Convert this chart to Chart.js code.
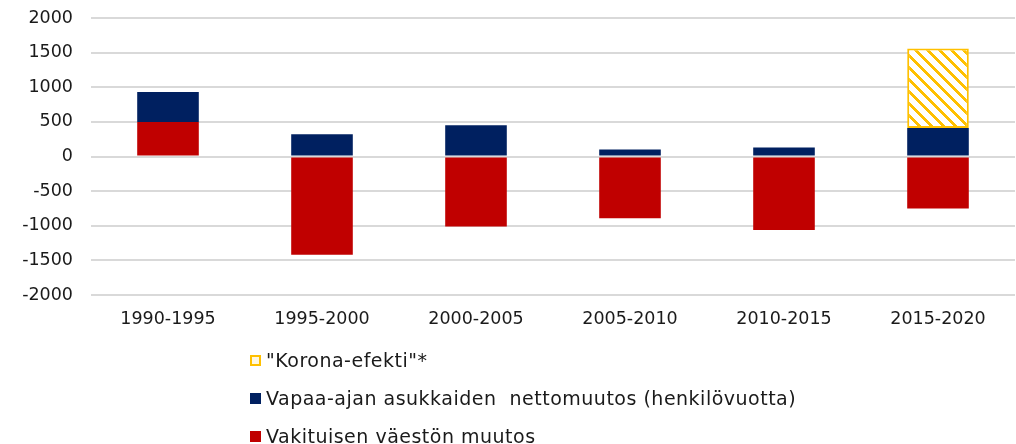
<!DOCTYPE html>
<html>
<head>
<meta charset="utf-8">
<script src="https://cdn.jsdelivr.net/npm/chart.js@4"></script>
<style>
  html, body { margin: 0; padding: 0; background: #fff; }
  #wrap { position: relative; width: 1016px; height: 444px; overflow: hidden; }
  #legend { position: absolute; left: 250px; top: 348px; font-family: "DejaVu Sans", sans-serif; font-size: 19px; letter-spacing: 0.5px; color: #1a1a1a; }
  #legend div { height: 38px; line-height: 24px; white-space: pre; }
  #legend span.box { display: inline-block; width: 11px; height: 11px; margin-right: 5px; vertical-align: 1px; box-sizing: border-box; }
</style>
</head>
<body>
<div id="wrap">
  <canvas id="chart" width="1016" height="444"></canvas>
  <div id="legend"></div>
</div>
<script>
const periods = ['1990-1995', '1995-2000', '2000-2005', '2005-2010', '2010-2015', '2015-2020'];
const vakituiset = [500, -1420, -1010, -890, -1060, -750];
const vapaaAjan = [430, 320, 450, 100, 130, 410];
const korona = [0, 0, 0, 0, 0, 1150];

// diagonal yellow hatch for the corona bar
function hatch() {
    const n = 12;
    const c = document.createElement('canvas');
    c.width = n; c.height = n;
    const g = c.getContext('2d');
    g.fillStyle = '#ffffff';
    g.fillRect(0, 0, n, n);
    g.fillStyle = '#FFC000';
    for (let x = 0; x < n; x++) {
        for (let y = 0; y < n; y++) {
            if (((x - y) % n + n) % n < 4) g.fillRect(x, y, 1, 1);
        }
    }
    return g.createPattern(c, 'repeat');
}

const ctx = document.getElementById('chart');

const data = {
    labels: periods,
    datasets: [{
        label: 'Vakituisen väestön muutos',
        data: vakituiset,
        backgroundColor: '#C00000'
    }, {
        label: 'Vapaa-ajan asukkaiden  nettomuutos (henkilövuotta)',
        data: vapaaAjan,
        backgroundColor: '#002060'
    }, {
        label: '"Korona-efekti"*',
        data: korona,
        backgroundColor: hatch(),
        borderColor: '#FFC000',
        borderWidth: 2,
        borderSkipped: false
    }]
};

const chart = new Chart(ctx, {
    type: 'bar',
    data: data,
    options: {
        responsive: false,
        animation: false,
        barPercentage: 0.4,
        categoryPercentage: 1,
        layout: { padding: { top: 18, right: 1, bottom: 108, left: 0 } },
        plugins: {
            legend: { display: false },
            tooltip: { enabled: false }
        },
        scales: {
            x: {
                stacked: true,
                grid: { display: false },
                border: { display: false },
                ticks: {
                    padding: 6,
                    color: '#1a1a1a',
                    font: { family: 'DejaVu Sans', size: 17.5 }
                }
            },
            y: {
                stacked: true,
                min: -2000,
                max: 2000,
                afterFit: (s) => { s.width = 91; s.paddingTop = 0; },
                grid: { color: '#d9d9d9', lineWidth: 2, drawTicks: false },
                border: { display: false },
                ticks: {
                    stepSize: 500,
                    padding: 18,
                    color: '#1a1a1a',
                    font: { family: 'DejaVu Sans', size: 17.5 },
                    callback: (v) => String(v)
                }
            }
        }
    }
});

// vertical legend, last series on top
const legend = document.getElementById('legend');
data.datasets.slice().reverse().forEach(ds => {
    const row = document.createElement('div');
    const box = document.createElement('span');
    box.className = 'box';
    if (ds.borderColor) {
        box.style.border = '2px solid ' + ds.borderColor;
        box.style.background = '#fff8e0';
    } else {
        box.style.background = ds.backgroundColor;
    }
    row.appendChild(box);
    row.appendChild(document.createTextNode(ds.label));
    legend.appendChild(row);
});
</script>
</body>
</html>
